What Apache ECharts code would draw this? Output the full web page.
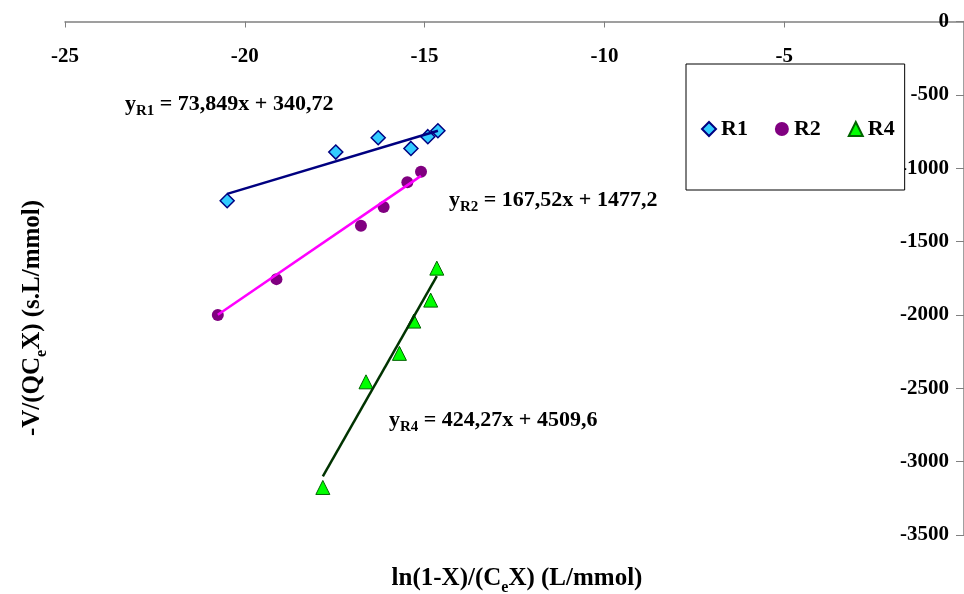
<!DOCTYPE html>
<html>
<head>
<meta charset="utf-8">
<script src="https://cdn.jsdelivr.net/npm/echarts@6/dist/echarts.min.js"></script>
<style>html,body{margin:0;padding:0;background:#fff;overflow:hidden}#c{width:964px;height:594px}</style>
</head>
<body>
<div id="c"></div>
<script>
// Data
const r1X = [-20.49, -17.47, -16.29, -15.38, -14.91, -14.63];
const r1Y = [-1222, -890, -792, -865, -785, -745];
const r2X = [-20.75, -19.12, -16.77, -16.14, -15.48, -15.10];
const r2Y = [-2001, -1756, -1392, -1265, -1096, -1024];
const r4X = [-17.83, -16.63, -15.70, -15.30, -14.83, -14.66];
const r4Y = [-3176, -2456, -2262, -2042, -1899, -1681];
// Trendline end points
const fit1X = [-20.49, -14.63], fit1Y = [-1175, -745];
const fit2X = [-20.75, -15.10], fit2Y = [-1999, -1052];
const fit4X = [-17.83, -14.66], fit4Y = [-3100, -1735];
const seriesNames = ['R1', 'R2', 'R4'];
const eqTexts = [
  ['R1', '73,849x + 340,72'],
  ['R2', '167,52x + 1477,2'],
  ['R4', '424,27x + 4509,6']
];
const xTitle = ['ln(1-X)/(C', 'e', 'X) (L/mmol)'];
const yTitle = ['-V/(QC', 'e', 'X) (s.L/mmol)'];

const pair = (xs, ys) => xs.map((x, i) => [x, ys[i]]);
const FONT = '"Liberation Serif", "Times New Roman", serif';
const chart = echarts.init(document.getElementById('c'), null, {renderer: 'canvas'});

function rich(size, sub) {
  return {
    m: {fontFamily: FONT, fontWeight: 'bold', fontSize: size, color: '#000', lineHeight: size + 6, verticalAlign: 'bottom', padding: [0,0,4,0]},
    s: {fontFamily: FONT, fontWeight: 'bold', fontSize: sub, color: '#000', lineHeight: sub + 2, verticalAlign: 'bottom'}
  };
}
function eq(i, x, y) {
  return {
    type: 'text', left: x, top: y, z: 100,
    style: {
      text: '{m|y}{s|' + eqTexts[i][0] + '}{m| = ' + eqTexts[i][1] + '}',
      rich: rich(22, 15)
    }
  };
}

chart.setOption({
  animation: false,
  backgroundColor: '#fff',
  grid: {left: 65, right: 0, top: 21.5, bottom: 59, containLabel: false},
  xAxis: {
    type: 'value', position: 'top', min: -25, max: 0, interval: 5,
    axisLine: {onZero: false, lineStyle: {color: '#808080', width: 1.5}},
    axisTick: {inside: true, length: 6, lineStyle: {color: '#808080'}},
    axisLabel: {inside: true, margin: 25, showMaxLabel: false, color: '#000',
      fontFamily: FONT, fontWeight: 'bold', fontSize: 21},
    splitLine: {show: false}
  },
  yAxis: {
    type: 'value', position: 'right', min: -3500, max: 0, interval: 500,
    axisLine: {show: true, onZero: false, lineStyle: {color: '#808080', width: 1.5}},
    axisTick: {show: true, inside: true, length: 8, lineStyle: {color: '#808080'}},
    axisLabel: {inside: true, margin: 15, color: '#000', formatter: v => String(v),
      fontFamily: FONT, fontWeight: 'bold', fontSize: 21},
    splitLine: {show: false}
  },
  legend: {
    data: seriesNames, left: 686, top: 64, orient: 'horizontal',
    borderColor: '#000', borderWidth: 1, backgroundColor: '#fff',
    padding: [54, 10, 50, 15], itemGap: 27, itemWidth: 14, itemHeight: 14,
    textStyle: {fontFamily: FONT, fontWeight: 'bold', fontSize: 22, color: '#000'}
  },
  series: [
    {name: 'R1', type: 'scatter', symbol: 'diamond', symbolSize: 14, z: 3,
      itemStyle: {color: '#33CCFF', borderColor: '#000080', borderWidth: 1.5, opacity: 1},
      data: pair(r1X, r1Y)},
    {name: 'R2', type: 'scatter', symbol: 'circle', symbolSize: 12, z: 3,
      itemStyle: {color: '#800080', opacity: 1},
      data: pair(r2X, r2Y)},
    {name: 'R4', type: 'scatter', symbol: 'triangle', symbolSize: 14, z: 3,
      itemStyle: {color: '#00FF00', borderColor: '#006400', borderWidth: 1, opacity: 1},
      data: pair(r4X, r4Y)},
    {name: 'fit1', type: 'line', symbol: 'none', z: 4, silent: true,
      lineStyle: {color: '#000080', width: 2.5}, data: pair(fit1X, fit1Y)},
    {name: 'fit2', type: 'line', symbol: 'none', z: 4, silent: true,
      lineStyle: {color: '#FF00FF', width: 2.5}, data: pair(fit2X, fit2Y)},
    {name: 'fit4', type: 'line', symbol: 'none', z: 4, silent: true,
      lineStyle: {color: '#003300', width: 2.5}, data: pair(fit4X, fit4Y)}
  ],
  graphic: [
    eq(0, 125, 93),
    eq(1, 449, 189),
    eq(2, 389, 409),
    {
      type: 'text', x: 34, y: 318, rotation: Math.PI / 2, z: 100,
      style: {
        text: '{m|' + yTitle[0] + '}{s|' + yTitle[1] + '}{m|' + yTitle[2] + '}',
        rich: rich(25, 16), align: 'center', verticalAlign: 'middle'
      }
    },
    {
      type: 'text', x: 517, y: 580, z: 100,
      style: {
        text: '{m|' + xTitle[0] + '}{s|' + xTitle[1] + '}{m|' + xTitle[2] + '}',
        rich: rich(25, 16), align: 'center', verticalAlign: 'middle'
      }
    }
  ]
});
</script>
</body>
</html>
